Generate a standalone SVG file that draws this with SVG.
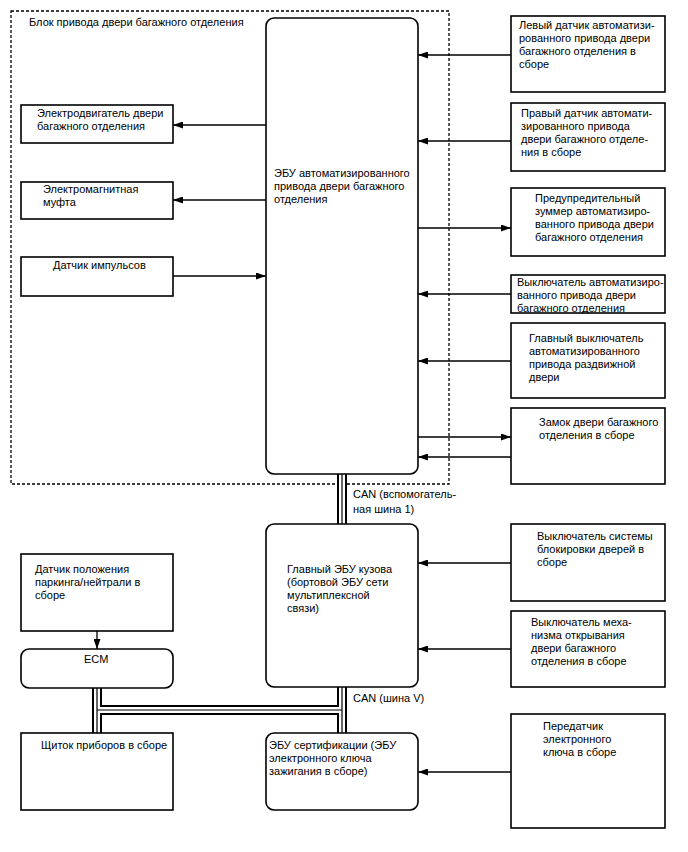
<svg xmlns="http://www.w3.org/2000/svg" width="688" height="852" viewBox="0 0 688 852">
<style>
.box{fill:#fff;stroke:#000;stroke-width:1.6}
.dash{fill:none;stroke:#000;stroke-width:1.3;stroke-dasharray:3 2}
.ln{fill:none;stroke:#000;stroke-width:1.3}
.t{font-family:"Liberation Sans",Arial,sans-serif;font-size:11px;fill:#000}
.b1{fill:none;stroke:#000;stroke-width:10}
.b2{fill:none;stroke:#fff;stroke-width:6}
.b3{fill:none;stroke:#000;stroke-width:1.2}
</style>
<defs>
<marker id="ah" markerUnits="userSpaceOnUse" markerWidth="10" markerHeight="7" refX="10" refY="3.5" orient="auto">
<path d="M0,0 L10,3.5 L0,7 z" fill="#000"/>
</marker>
</defs>
<g id="block-frame">
<rect class="dash" x="11" y="11" width="438" height="473"/>
<text class="t" x="29" y="26">Блок привода двери багажного отделения</text>
</g>
<g id="connectors">
<g id="bus">
<path class="b1" d="M342,474V524M342,687V733M97,688V733M97,710H342"/>
<path class="b2" d="M342,474V524M342,687V733M97,688V733M97,710H342"/>
<path class="b3" d="M342,474V524M342,687V733M97,688V733M97,710H342"/>
</g>
<g id="arrows" marker-end="url(#ah)">
<path class="ln" d="M266,125H173" marker-end="url(#ah)"/>
<path class="ln" d="M266,200H173" marker-end="url(#ah)"/>
<path class="ln" d="M173,276H266" marker-end="url(#ah)"/>
<path class="ln" d="M511,55H418" marker-end="url(#ah)"/>
<path class="ln" d="M511,141H418" marker-end="url(#ah)"/>
<path class="ln" d="M418,228H511" marker-end="url(#ah)"/>
<path class="ln" d="M511,294H418" marker-end="url(#ah)"/>
<path class="ln" d="M511,361H418" marker-end="url(#ah)"/>
<path class="ln" d="M418,437H511" marker-end="url(#ah)"/>
<path class="ln" d="M511,457H418" marker-end="url(#ah)"/>
<path class="ln" d="M511,563H418" marker-end="url(#ah)"/>
<path class="ln" d="M511,649H418" marker-end="url(#ah)"/>
<path class="ln" d="M511,772H418" marker-end="url(#ah)"/>
<path class="ln" d="M97,631V649" marker-end="url(#ah)"/>
</g>
<text class="t" x="353" y="498">CAN (вспомогатель-</text>
<text class="t" x="353" y="513">ная шина 1)</text>
<text class="t" x="353" y="702">CAN (шина V)</text>
</g>
<g id="ecu-door">
<rect class="box" x="266" y="18" width="152" height="456" rx="8"/>
<text class="t" x="274" y="177">ЭБУ автоматизированного</text>
<text class="t" x="274" y="190">привода двери багажного</text>
<text class="t" x="274" y="203">отделения</text>
</g>
<g id="motor">
<rect class="box" x="21" y="105" width="152" height="38"/>
<text class="t" x="37" y="117">Электродвигатель двери</text>
<text class="t" x="37" y="130">багажного отделения</text>
</g>
<g id="clutch">
<rect class="box" x="21" y="182" width="152" height="37"/>
<text class="t" x="43" y="193">Электромагнитная</text>
<text class="t" x="43" y="206">муфта</text>
</g>
<g id="pulse">
<rect class="box" x="21" y="257" width="152" height="39"/>
<text class="t" x="53" y="269">Датчик импульсов</text>
</g>
<g id="left-sensor">
<rect class="box" x="511" y="16" width="154" height="76"/>
<text class="t" x="519" y="29">Левый датчик автоматизи-</text>
<text class="t" x="519" y="42">рованного привода двери</text>
<text class="t" x="519" y="55">багажного отделения в</text>
<text class="t" x="519" y="68">сборе</text>
</g>
<g id="right-sensor">
<rect class="box" x="511" y="103" width="154" height="68"/>
<text class="t" x="521" y="117">Правый датчик автомати-</text>
<text class="t" x="521" y="130">зированного привода</text>
<text class="t" x="521" y="143">двери багажного отделе-</text>
<text class="t" x="521" y="156">ния в сборе</text>
</g>
<g id="buzzer">
<rect class="box" x="511" y="188" width="154" height="68"/>
<text class="t" x="535" y="202">Предупредительный</text>
<text class="t" x="535" y="215">зуммер автоматизиро-</text>
<text class="t" x="535" y="228">ванного привода двери</text>
<text class="t" x="535" y="241">багажного отделения</text>
</g>
<g id="door-switch">
<rect class="box" x="511" y="275" width="154" height="38"/>
<text class="t" x="517" y="286">Выключатель автоматизиро-</text>
<text class="t" x="517" y="299">ванного привода двери</text>
<text class="t" x="517" y="312">багажного отделения</text>
</g>
<g id="main-switch">
<rect class="box" x="511" y="323" width="154" height="75"/>
<text class="t" x="529" y="342">Главный выключатель</text>
<text class="t" x="529" y="355">автоматизированного</text>
<text class="t" x="529" y="368">привода раздвижной</text>
<text class="t" x="529" y="381">двери</text>
</g>
<g id="lock">
<rect class="box" x="511" y="408" width="154" height="76"/>
<text class="t" x="539" y="426">Замок двери багажного</text>
<text class="t" x="539" y="439">отделения в сборе</text>
</g>
<g id="body-ecu">
<rect class="box" x="266" y="524" width="152" height="163" rx="8"/>
<text class="t" x="287" y="573">Главный ЭБУ кузова</text>
<text class="t" x="287" y="586">(бортовой ЭБУ сети</text>
<text class="t" x="287" y="599">мультиплексной</text>
<text class="t" x="287" y="612">связи)</text>
</g>
<g id="lock-switch">
<rect class="box" x="511" y="524" width="154" height="77"/>
<text class="t" x="537" y="540">Выключатель системы</text>
<text class="t" x="537" y="553">блокировки дверей в</text>
<text class="t" x="537" y="566">сборе</text>
</g>
<g id="opener-switch">
<rect class="box" x="511" y="611" width="154" height="76"/>
<text class="t" x="531" y="626">Выключатель меха-</text>
<text class="t" x="531" y="639">низма открывания</text>
<text class="t" x="531" y="652">двери багажного</text>
<text class="t" x="531" y="665">отделения в сборе</text>
</g>
<g id="pn-sensor">
<rect class="box" x="21" y="554" width="152" height="77"/>
<text class="t" x="35" y="573">Датчик положения</text>
<text class="t" x="35" y="586">паркинга/нейтрали в</text>
<text class="t" x="35" y="599">сборе</text>
</g>
<g id="ecm">
<rect class="box" x="21" y="649" width="152" height="39" rx="8"/>
<text class="t" x="84" y="663">ECM</text>
</g>
<g id="meter">
<rect class="box" x="21" y="733" width="152" height="77"/>
<text class="t" x="41" y="749">Щиток приборов в сборе</text>
</g>
<g id="cert-ecu">
<rect class="box" x="266" y="733" width="152" height="77" rx="8"/>
<text class="t" x="269" y="749">ЭБУ сертификации (ЭБУ</text>
<text class="t" x="269" y="762">электронного ключа</text>
<text class="t" x="269" y="775">зажигания в сборе)</text>
</g>
<g id="key">
<rect class="box" x="511" y="714" width="154" height="114"/>
<text class="t" x="543" y="730">Передатчик</text>
<text class="t" x="543" y="743">электронного</text>
<text class="t" x="543" y="756">ключа в сборе</text>
</g>
</svg>
